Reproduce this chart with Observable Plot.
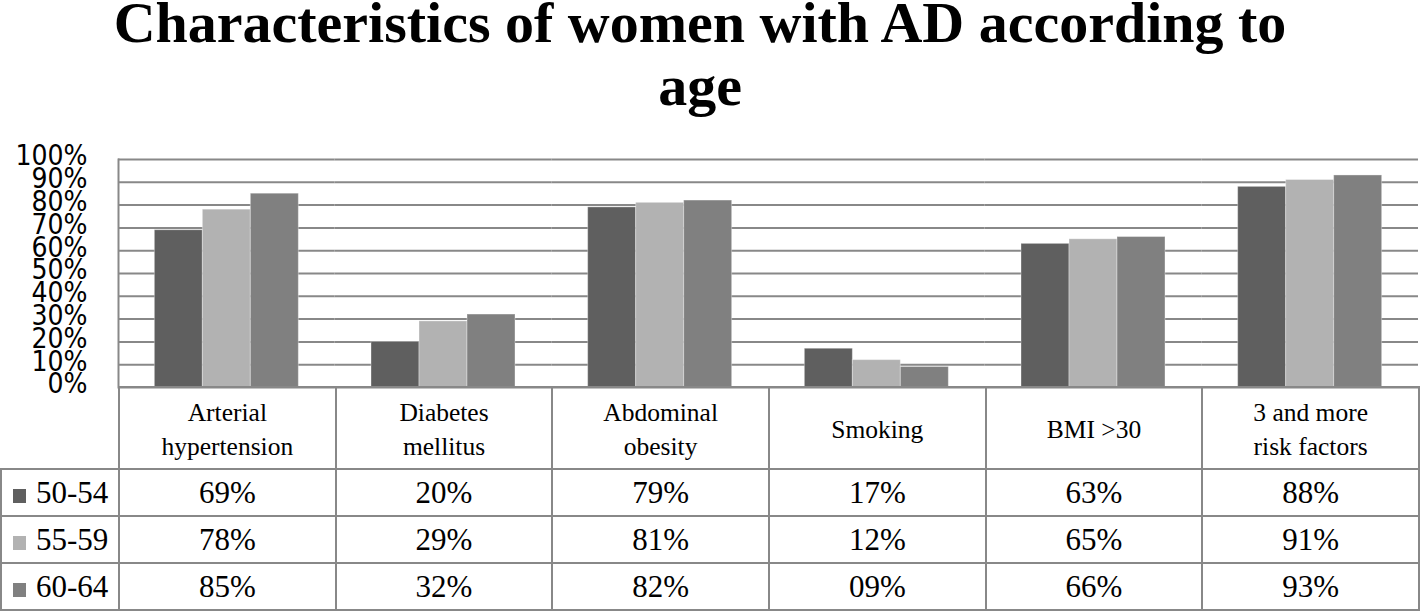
<!DOCTYPE html>
<html>
<head>
<meta charset="utf-8">
<script src="https://cdn.jsdelivr.net/npm/d3@7"></script>
<script src="https://cdn.jsdelivr.net/npm/@observablehq/plot@0.6"></script>
<style>
  html, body { margin: 0; padding: 0; background: #fff; }
  #wrap { position: relative; width: 1420px; height: 611px; overflow: hidden; }
  #title { position: absolute; left: 0; top: 0; width: 1400px; text-align: center;
    font-family: "Liberation Serif", "Times New Roman", serif; font-weight: bold;
    font-size: 58px; color: #000; }
  #title .l1 { display: block; line-height: 46px; }
  #title .l2 { display: block; line-height: 80px; }
  #chart { position: absolute; left: 0; top: 140px; }
  #tbl { position: absolute; left: 0; top: 386px; border-collapse: collapse; table-layout: fixed;
    font-family: "Liberation Serif", "Times New Roman", serif; font-size: 31px; color: #000; }
  #tbl td { border: 2px solid #888; padding: 0; text-align: center; }
  #tbl tr.head td { height: 76px; line-height: 34px; font-size: 25.5px; padding-top: 4px; }
  #tbl tr.row td { height: 45px; line-height: 45px; }
  #tbl td.corner { border-top: none; border-left: none; }
  #tbl td.lab { text-align: left; padding-left: 11px; }
  .sw { display: inline-block; width: 13px; height: 14px; margin-right: 10px; vertical-align: 0px; }
</style>
</head>
<body>
<div id="wrap">
  <div id="title"><span class="l1">Characteristics of women with AD according to</span><span class="l2">age</span></div>
  <div id="chart"></div>
  <table id="tbl"></table>
</div>
<script>
// ---- data ----
const categories = ["Arterial hypertension", "Diabetes mellitus", "Abdominal obesity", "Smoking", "BMI >30", "3 and more risk factors"];
const headerLines = [["Arterial", "hypertension"], ["Diabetes", "mellitus"], ["Abdominal", "obesity"], ["Smoking"], ["BMI >30"], ["3 and more", "risk factors"]];
const ageGroups = ["50-54", "55-59", "60-64"];
const values5054 = [69, 20, 79, 17, 63, 88];
const values5559 = [78, 29, 81, 12, 65, 91];
const values6064 = [85, 32, 82, 9, 66, 93];
const groupColors = ["#5f5f5f", "#b2b2b2", "#808080"];
const yTicks = [0, 0.1, 0.2, 0.3, 0.4, 0.5, 0.6, 0.7, 0.8, 0.9, 1.0];

const seriesValues = [values5054, values5559, values6064];
const rows = categories.flatMap((c, i) => ageGroups.map((g, j) => ({category: c, group: g, value: seriesValues[j][i] / 100})));

const chart = Plot.plot({
  width: 1420,
  height: 249,
  marginTop: 19,
  marginBottom: 2,
  marginLeft: 118,
  marginRight: 2,
  fx: {domain: categories, padding: 0, round: false, axis: null, label: null},
  x: {domain: ageGroups, paddingInner: 0, paddingOuter: 0.757, round: false, axis: null, label: null},
  y: {domain: [0, 1], axis: null, label: null},
  color: {domain: ageGroups, range: groupColors},
  style: {fontFamily: "'DejaVu Sans Condensed', 'DejaVu Sans', sans-serif", fontSize: "28px", color: "#000", background: "transparent", overflow: "visible"},
  marks: [
    Plot.gridY(yTicks, {stroke: "#888", strokeOpacity: 1, strokeWidth: 2}),
    Plot.axisY(yTicks, {label: null, tickSize: 0, tickPadding: 31, dy: -3, fill: "#000", fontSize: 28, tickFormat: d => Math.round(d * 100) + "%"}),
    Plot.barY(rows, {fx: "category", x: "group", y: "value", fill: "group", stroke: "#fff", strokeOpacity: 0.35, strokeWidth: 1}),
    Plot.frame({anchor: "left", facetAnchor: "left", stroke: "#888", strokeWidth: 2})
  ]
});
document.getElementById("chart").appendChild(chart);

// ---- data table ----
const tbl = document.getElementById("tbl");
const colgroup = document.createElement("colgroup");
const c0 = document.createElement("col"); c0.style.width = "118px"; colgroup.appendChild(c0);
categories.forEach(() => { const c = document.createElement("col"); c.style.width = (1300 / categories.length) + "px"; colgroup.appendChild(c); });
tbl.appendChild(colgroup);
tbl.style.width = "1418px";
const head = document.createElement("tr"); head.className = "head";
const corner = document.createElement("td"); corner.className = "corner"; head.appendChild(corner);
headerLines.forEach(lines => { const td = document.createElement("td"); td.innerHTML = lines.join("<br>"); head.appendChild(td); });
tbl.appendChild(head);
ageGroups.forEach((g, j) => {
  const tr = document.createElement("tr"); tr.className = "row";
  const lab = document.createElement("td"); lab.className = "lab";
  const sw = document.createElement("span"); sw.className = "sw"; sw.style.background = groupColors[j];
  lab.appendChild(sw); lab.appendChild(document.createTextNode(g));
  tr.appendChild(lab);
  seriesValues[j].forEach(v => { const td = document.createElement("td"); td.textContent = String(v).padStart(2, "0") + "%"; tr.appendChild(td); });
  tbl.appendChild(tr);
});
</script>
</body>
</html>
